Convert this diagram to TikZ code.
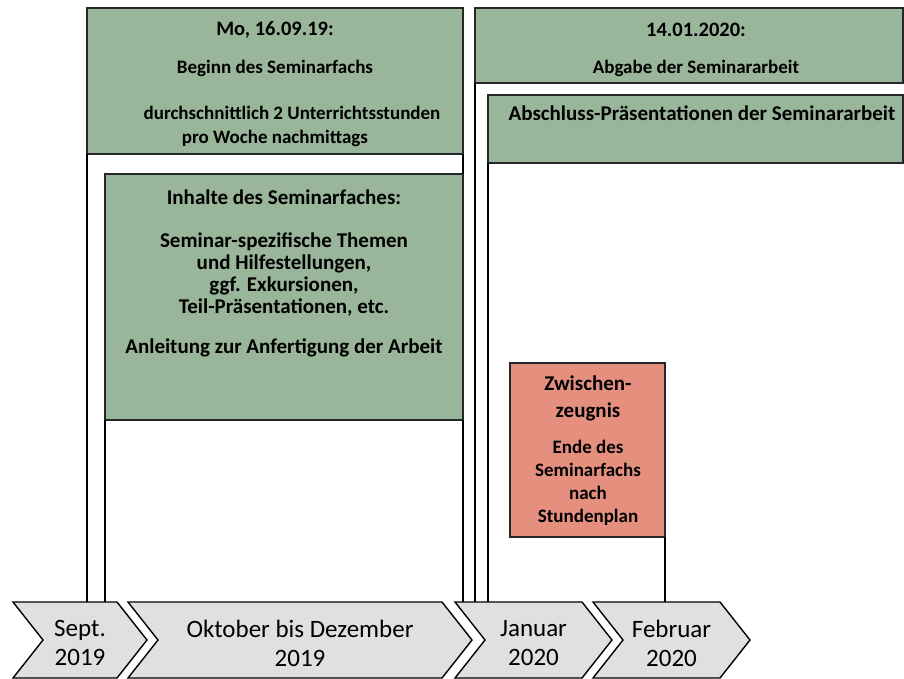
\documentclass[tikz,border=0pt]{standalone}
\usepackage{fontspec}
\setmainfont{Carlito}
\definecolor{boxgreen}{RGB}{153,182,154}
\definecolor{boxred}{RGB}{229,143,127}
\definecolor{chevgray}{RGB}{224,224,224}
\begin{document}
\begin{tikzpicture}[x=1pt,y=-1pt]
        \tikzstyle{every node}=[inner sep=0pt, outer sep=0pt]
        \tikzstyle{box}=[draw=black!85, line width=1.7pt, fill=boxgreen, anchor=north west]
        \tikzstyle{redbox}=[box, fill=boxred]
        \tikzstyle{frameline}=[draw=black, line width=2pt]
        \tikzstyle{chev}=[draw=black, line width=1.4pt, fill=chevgray, line join=miter]
        \tikzstyle{title}=[font=\fontsize{20.5}{24}\bfseries\selectfont, align=center]
        \tikzstyle{body}=[font=\fontsize{19}{24}\bfseries\selectfont, align=center]
        \tikzstyle{bigbody}=[font=\fontsize{21}{21.7}\bfseries\selectfont, align=center]
        \tikzstyle{month}=[font=\fontsize{25}{29}\selectfont, align=center]
        \useasboundingbox (0,0) rectangle (904,678);
        \coordinate (base) at (0,602);
        \node[box, minimum width=376pt, minimum height=146pt] (mo) at (87,8) {};
        \node[box, minimum width=358pt, minimum height=246pt] (inhalte) at (105,174) {};
        \node[box, minimum width=428pt, minimum height=75pt] (abgabe) at (475,8) {};
        \node[box, minimum width=415pt, minimum height=68pt] (praes) at (488,95) {};
        \node[redbox, minimum width=155pt, minimum height=174pt] (zeugnis) at (510,363) {};
        \draw[frameline] (mo.south west) -- (mo.south west |- base);
        \draw[frameline] (mo.south east) -- (inhalte.north east);
        \draw[frameline] (inhalte.south west) -- (inhalte.south west |- base);
        \draw[frameline] (inhalte.south east) -- (inhalte.south east |- base);
        \draw[frameline] (abgabe.south west) -- (abgabe.south west |- base);
        \draw[frameline] (praes.south west) -- (praes.south west |- base);
        \draw[frameline] (zeugnis.south east) -- (zeugnis.south east |- base);
        \node[title] (modate) at (275,30) {Mo, 16.09.19:};
        \node[body] (beginn) at (275,68) {Beginn des Seminarfachs};
        \node[body] (stunden) at (275,126) {\hspace*{34pt}durchschnittlich 2 Unterrichtsstunden\\pro Woche nachmittags};
        \node[title] (abdate) at (696,30) {14.01.2020:};
        \node[body] (abtext) at (696,68) {Abgabe der Seminararbeit};
        \node[bigbody] (praestext) at (702,113) {Abschluss-Präsentationen der Seminararbeit};
        \node[bigbody] (inhead) at (284,197) {Inhalte des Seminarfaches:};
        \node[bigbody] (inthemen) at (284,274.5) {Seminar-spezifische Themen\\und Hilfestellungen,\\ggf. Exkursionen,\\Teil-Präsentationen, etc.};
        \node[bigbody] (inanl) at (284,348) {Anleitung zur Anfertigung der Arbeit};
        \node[font=\fontsize{21}{27}\bfseries\selectfont, align=center] (zwtitle) at (588,398.5) {Zwischen-\\zeugnis};
        \node[font=\fontsize{19}{23}\bfseries\selectfont, align=center] (zwtext) at (588,482.5) {Ende des\\Seminarfachs\\nach\\Stundenplan};
        \foreach \name/\xa/\xb/\txt in {sept/13/117/{Sept.\\2019}, okt/128/442/{Oktober bis Dezember\\2019}, jan/455/582/{Januar\\2020}, feb/593/720/{Februar\\2020}}{
                \draw[chev] (\xa,602) -- (\xb,602) -- (\xb+30,640) -- (\xb,678) -- (\xa,678) -- (\xa+30,640) -- cycle;
                \node[month] (\name) at ({(\xa+\xb+30)/2},643) {\txt};
        }
\end{tikzpicture}
\end{document}
